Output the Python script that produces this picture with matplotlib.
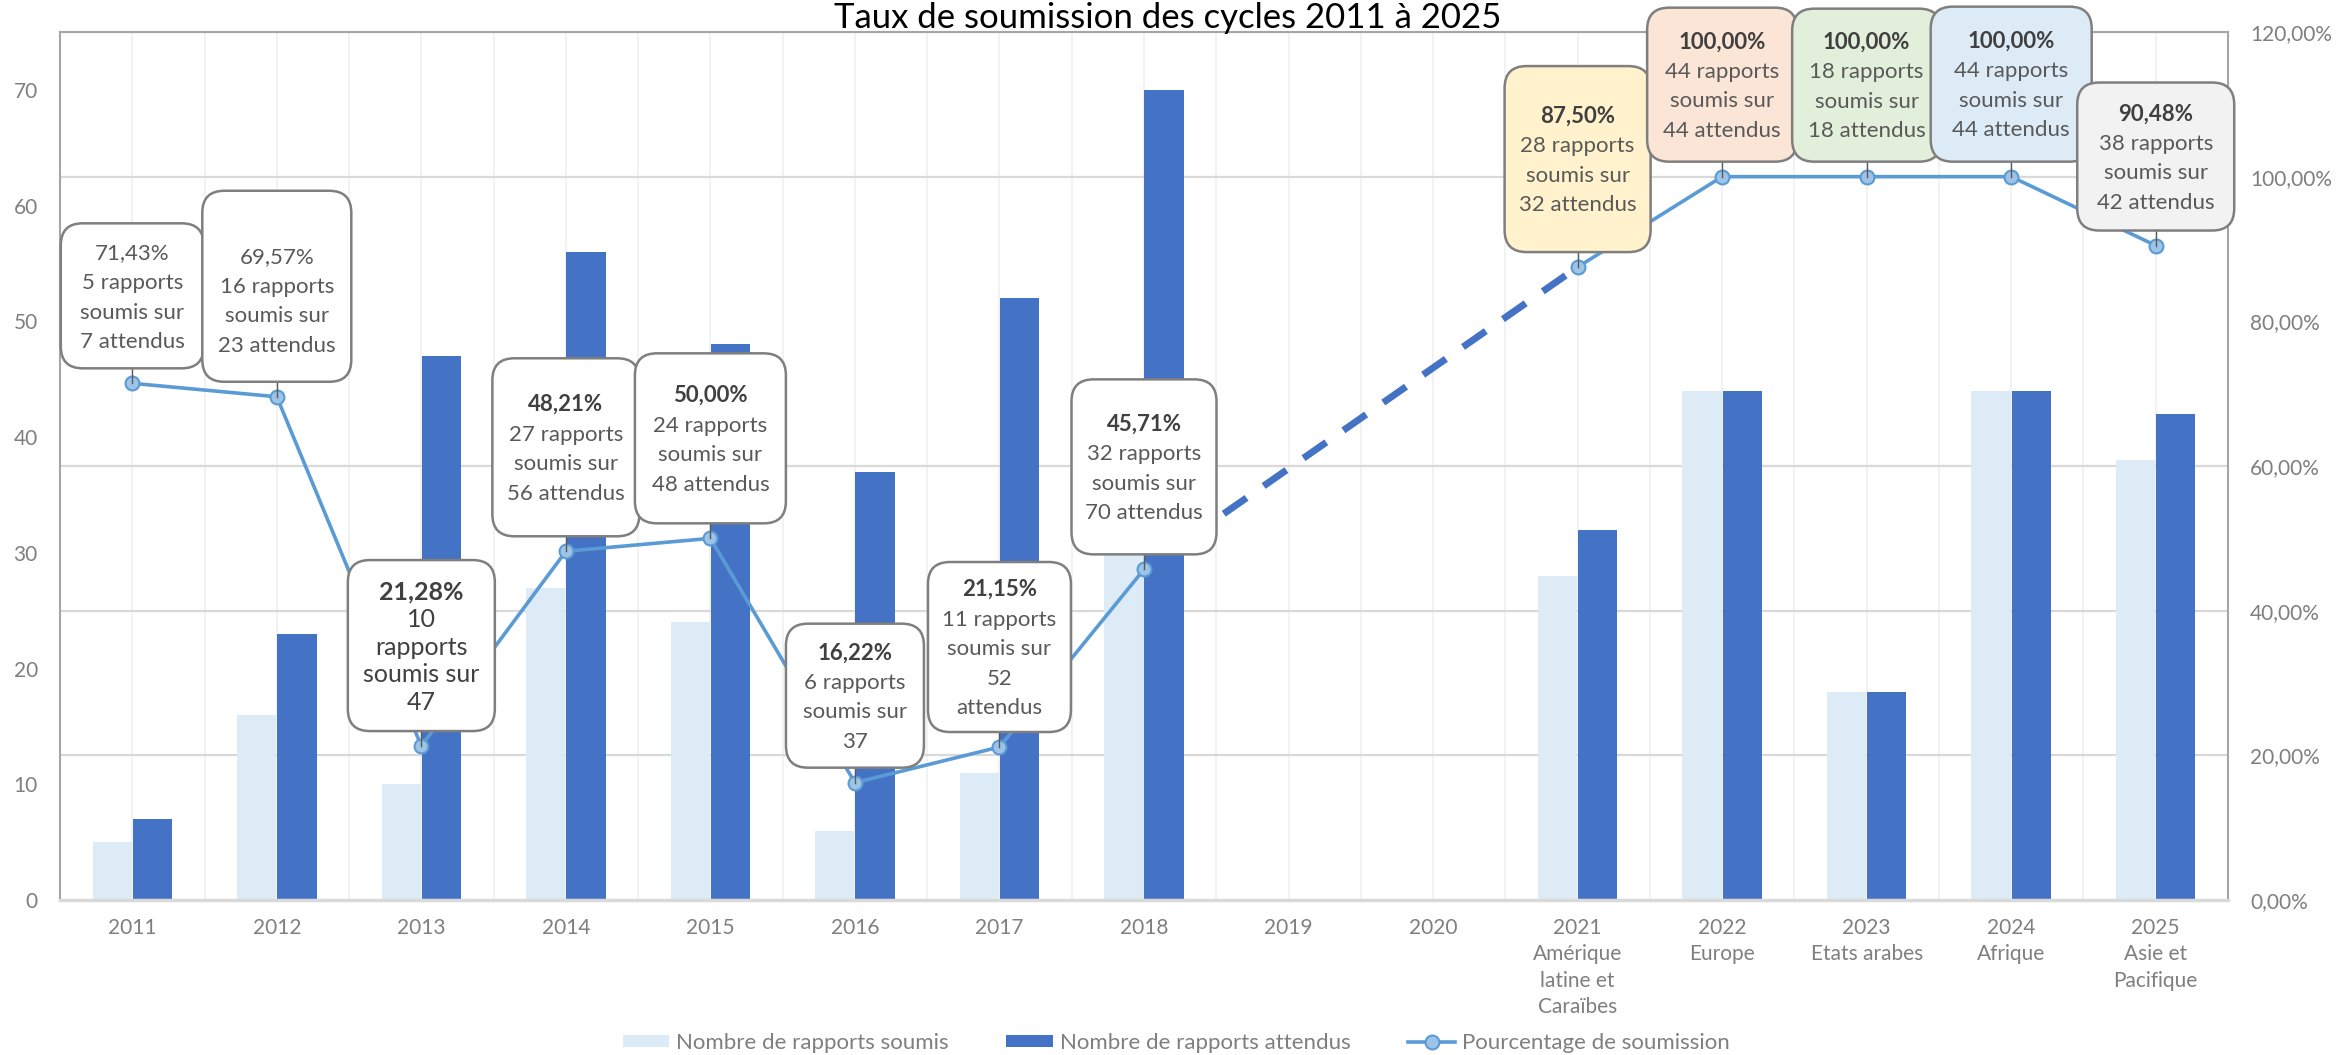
import numpy as np
import matplotlib.pyplot as plt
from matplotlib.patches import FancyBboxPatch, Patch
from matplotlib.lines import Line2D
from matplotlib.transforms import IdentityTransform

plt.rcParams['font.family'] = ['Lato', 'DejaVu Sans']

# donnees
annees = ['2011', '2012', '2013', '2014', '2015', '2016', '2017', '2018',
          '2019', '2020', '2021', '2022', '2023', '2024', '2025']
regions = ['', '', '', '', '', '', '', '', '', '',
           'Amérique\nlatine et\nCaraïbes', 'Europe', 'Etats arabes',
           'Afrique', 'Asie et\nPacifique']
soumis = [5, 16, 10, 27, 24, 6, 11, 32, 0, 0, 28, 44, 18, 44, 38]
attendus = [7, 23, 47, 56, 48, 37, 52, 70, 0, 0, 32, 44, 18, 44, 42]
pourcentage = [71.43, 69.57, 21.28, 48.21, 50.00, 16.22, 21.15, 45.71,
               np.nan, np.nan, 87.50, 100.00, 100.00, 100.00, 90.48]

etiquettes = [
    '71,43%\n5 rapports\nsoumis sur\n7 attendus',
    '69,57%\n16 rapports\nsoumis sur\n23 attendus',
    '21,28%\n10\nrapports\nsoumis sur\n47',
    '48,21%\n27 rapports\nsoumis sur\n56 attendus',
    '50,00%\n24 rapports\nsoumis sur\n48 attendus',
    '16,22%\n6 rapports\nsoumis sur\n37',
    '21,15%\n11 rapports\nsoumis sur\n52\nattendus',
    '45,71%\n32 rapports\nsoumis sur\n70 attendus',
    None, None,
    '87,50%\n28 rapports\nsoumis sur\n32 attendus',
    '100,00%\n44 rapports\nsoumis sur\n44 attendus',
    '100,00%\n18 rapports\nsoumis sur\n18 attendus',
    '100,00%\n44 rapports\nsoumis sur\n44 attendus',
    '90,48%\n38 rapports\nsoumis sur\n42 attendus',
]

# mise en forme des bulles (pixels)
bulle_l = [143, 149, 147, 147, 151, 138, 143, 145, 0, 0, 146, 150, 149, 161, 157]
bulle_h = [145, 191, 171, 178, 170, 144, 170, 175, 0, 0, 186, 154, 153, 155, 148]
bulle_dy = [0, 13, 0, 0, 0, 0, 0, 0, 0, 0, 0, 0, 0, 0, 0]
bulle_fond = ['white'] * 10 + ['#FFF2CC', '#FBE5D6', '#E2EFDA', '#DDEBF7', '#F2F2F2']
gras = [False, False] + [True] * 13
grand = [False, False, True] + [False] * 12

W, H = 2338, 1055
fig = plt.figure(figsize=(W / 100, H / 100), dpi=100)
ax = fig.add_axes([60 / W, 1 - 900 / H, (2228 - 60) / W, (900 - 32) / H])

x = np.arange(len(annees))
bw = 0.272
ax.bar(x - bw / 2 - 0.003, soumis, bw, color='#DDEBF7', lw=0, zorder=2)
ax.bar(x + bw / 2 + 0.003, attendus, bw, color='#4472C4', lw=0, zorder=2)

ax.set_xlim(-0.5, 14.5)
ax.set_ylim(0, 75)
ax.set_yticks(range(0, 71, 10))
ax.set_yticks(np.arange(0, 75.1, 12.5), minor=True)
ax.set_xticks(x)
ax.set_xticks(np.arange(-0.5, 14.6, 1), minor=True)
ax.set_xticklabels([a + ('\n' + r if r else '') for a, r in zip(annees, regions)],
                   linespacing=1.4)
ax.grid(axis='y', which='minor', color='#D9D9D9', lw=1.6)
ax.grid(axis='x', which='both', color='#F0F0F0', lw=1.2)
ax.set_axisbelow(True)
ax.tick_params(which='both', length=0)
ax.tick_params(axis='y', pad=16, labelsize=15, labelcolor='#7F7F7F')
ax.tick_params(axis='x', pad=13, labelsize=15, labelcolor='#7F7F7F')
for s in ['left', 'top', 'right']:
    ax.spines[s].set_color('#A6A6A6')
    ax.spines[s].set_linewidth(1.5)
ax.spines['bottom'].set_color('#D9D9D9')
ax.spines['bottom'].set_linewidth(2.5)

ax2 = ax.twinx()
ax2.set_ylim(0, 120)
ax2.set_yticks(range(0, 121, 20))
ax2.set_yticklabels([f'{v:.2f}%'.replace('.', ',') for v in range(0, 121, 20)])
ax2.tick_params(length=0, pad=16, labelsize=15, labelcolor='#7F7F7F')
for s in ax2.spines.values():
    s.set_visible(False)

ax2.plot(x, pourcentage, color='#5B9BD5', lw=2.6, marker='o', ms=10,
         mfc='#9DC3E6', mec='#5B9BD5', mew=1.5, zorder=3)
i1, i2 = annees.index('2018'), annees.index('2021')
ax2.plot([x[i1], x[i2]], [pourcentage[i1], pourcentage[i2]], color='#4472C4',
         lw=5, dashes=(4, 3), zorder=2.5)

# bulles de donnees
ident = IdentityTransform()
for i, txt in enumerate(etiquettes):
    if txt is None:
        continue
    px, py = ax2.transData.transform((x[i], pourcentage[i]))
    bas = py + 15
    w, h = bulle_l[i], bulle_h[i]
    ax2.add_artist(Line2D([px, px], [py, bas], transform=ident, color='#595959',
                          lw=1, zorder=5, clip_on=False))
    ax2.add_artist(FancyBboxPatch((px - w / 2, bas), w, h,
                                  boxstyle='round,pad=0,rounding_size=22',
                                  fc=bulle_fond[i], ec='#7F7F7F', lw=1.8,
                                  transform=ident, clip_on=False, zorder=6))
    lignes = txt.split('\n')
    n = len(lignes)
    fs = 18 if grand[i] else 16
    pas = 27.5 if grand[i] else 29.5
    coul = '#404040' if grand[i] else '#595959'
    centre = bas + h / 2 - bulle_dy[i]
    for k, l in enumerate(lignes):
        yl = centre + ((n - 1) / 2 - k) * pas - 0.36 * fs * 100 / 72
        b = gras[i] and k == 0
        ax2.text(px, yl, l, transform=ident, ha='center', va='baseline',
                 fontsize=fs, color='#404040' if b else coul,
                 weight='bold' if b else 'normal', zorder=7, clip_on=False)

fig.text(1168 / W, 1 - 18 / H, 'Taux de soumission des cycles 2011 à 2025',
         ha='center', va='center', fontsize=25, color='black')

poignees = [Patch(fc='#DDEBF7'), Patch(fc='#4472C4'),
            Line2D([], [], color='#5B9BD5', lw=2.6, marker='o', ms=10,
                   mfc='#9DC3E6', mec='#5B9BD5', mew=1.5)]
fig.legend(poignees, ['Nombre de rapports soumis', 'Nombre de rapports attendus',
                      'Pourcentage de soumission'],
           loc='center', bbox_to_anchor=(1176 / W, 1 - 1043 / H), ncol=3,
           frameon=False, fontsize=16, handlelength=2.1, handleheight=0.5,
           handletextpad=0.3, columnspacing=2.6, labelcolor='#7F7F7F')

fig.savefig('out.png', dpi=100)
